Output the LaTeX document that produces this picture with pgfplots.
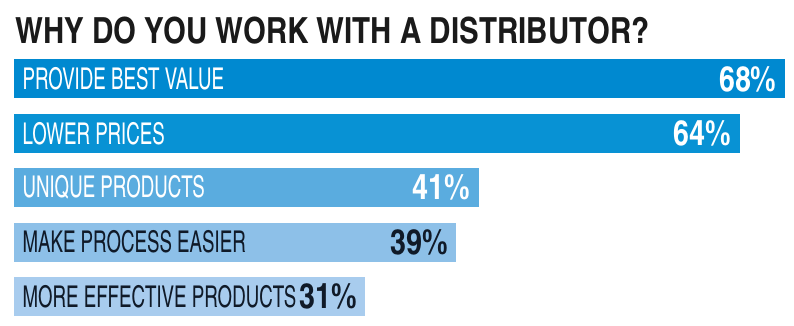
\documentclass[border=0pt]{standalone}
\usepackage{pgfplots}
\pgfplotsset{compat=1.18}
\usepackage{fontspec}
\setmainfont{TeX Gyre Heros Cn}
\newfontfamily\labfont{TeX Gyre Heros Cn}[FakeStretch=0.76]
\definecolor{c1}{HTML}{0089D0}
\definecolor{c2}{HTML}{0892D4}
\definecolor{c3}{HTML}{5AACDF}
\definecolor{c4}{HTML}{8DC0E8}
\definecolor{c5}{HTML}{A8CCEE}
\definecolor{ink}{HTML}{101A28}
\definecolor{tink}{HTML}{1A1A1A}
\begin{document}
\begin{tikzpicture}[x=1pt,y=1pt]
\path[use as bounding box] (0,0) rectangle (794,325);
\node[anchor=base west,inner sep=0pt,text=tink,font=\fontsize{36}{40}\selectfont\bfseries] at (15,282) {WHY DO YOU WORK WITH A DISTRIBUTOR?};
\begin{axis}[
  at={(14pt,1.3pt)}, anchor=south west,
  width=771pt, height=272pt, scale only axis,
  xmin=0, xmax=68, ymin=-0.5, ymax=4.5, y dir=reverse,
  axis on top,
  axis line style={draw=none}, major tick length=0pt,
  xtick=\empty, ytick={0,1,2,3,4},
  yticklabels={{\color{white}PROVIDE BEST VALUE},{\color{white}LOWER PRICES},{\color{white}UNIQUE PRODUCTS},{\color{ink}MAKE PROCESS EASIER},{\color{ink}MORE EFFECTIVE PRODUCTS}},
  yticklabel style={anchor=west, xshift=5pt, font=\labfont\fontsize{30}{32}\selectfont},
  xbar, bar width=0.717,
  /pgf/number format/assume math mode=true,
  nodes near coords={\pgfmathprintnumber{\pgfplotspointmeta}\%},
  nodes near coords style={anchor=east, xshift=-5pt, font=\fontsize{35}{38}\selectfont\bfseries},
  clip=false,
]
\addplot[fill=c1, draw=none, bar shift=0pt, nodes near coords style={text=white}] coordinates {(68,0)};
\addplot[fill=c2, draw=none, bar shift=0pt, nodes near coords style={text=white}] coordinates {(64,1)};
\addplot[fill=c3, draw=none, bar shift=0pt, nodes near coords style={text=white}] coordinates {(41,2)};
\addplot[fill=c4, draw=none, bar shift=0pt, nodes near coords style={text=ink}] coordinates {(39,3)};
\addplot[fill=c5, draw=none, bar shift=0pt, nodes near coords style={text=ink}] coordinates {(31,4)};
\end{axis}
\end{tikzpicture}
\end{document}
